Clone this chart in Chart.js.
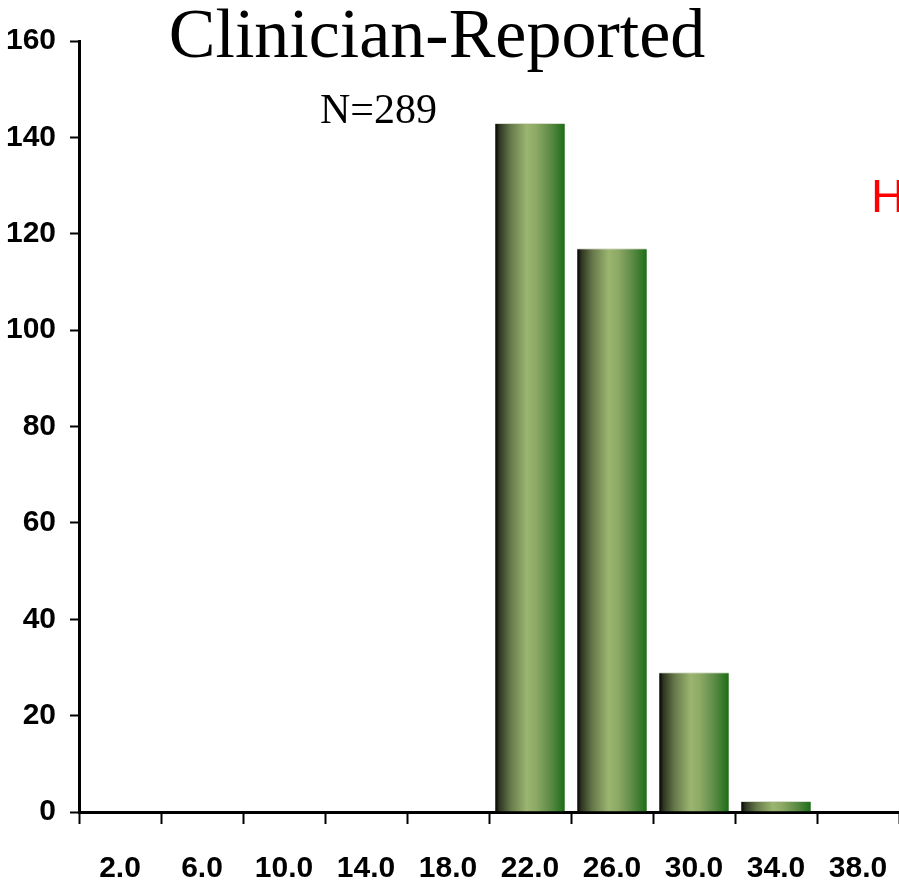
<!DOCTYPE html>
<html>
<head>
<meta charset="utf-8">
<title>Clinician-Reported</title>
<script src="https://cdn.jsdelivr.net/npm/chart.js@4.4.1/dist/chart.umd.min.js"></script>
<style>
  html, body { margin: 0; padding: 0; background: #fff; }
  #wrap { width: 899px; height: 883px; overflow: hidden; }
</style>
</head>
<body>
<div id="wrap"><canvas id="hist" width="899" height="883"></canvas></div>
<script>
// --- data --------------------------------------------------------------
const binLabels = ["2.0", "6.0", "10.0", "14.0", "18.0", "22.0", "26.0", "30.0", "34.0", "38.0"];
const counts    = [0, 0, 0, 0, 0, 143, 117, 29, 2.3, 0];
const yTicks    = [0, 20, 40, 60, 80, 100, 120, 140, 160];
const titleText = "Clinician-Reported";
const nText     = "N=289";
const sideText  = "H";   // cut off at the right edge in the original

const BAR_PCT = 0.85;
// no narrow face installed, Liberation Sans bold is the closest
const tickFont = { family: "'Liberation Sans', Arial, sans-serif", size: 30, weight: "bold" };

// horizontal "cylinder" shading for each bar
function barGradient(ctx) {
  const chart = ctx.chart;
  const xs = chart.scales.x;
  if (!chart.chartArea || !xs || ctx.dataIndex === undefined) return "#8aa862";
  const cx = xs.getPixelForValue(ctx.dataIndex);
  const w = (xs.width / binLabels.length) * BAR_PCT;
  const g = chart.ctx.createLinearGradient(cx - w / 2, 0, cx + w / 2, 0);
  g.addColorStop(0.00, "#000000");
  g.addColorStop(0.06, "#2e3522");
  g.addColorStop(0.22, "#66784a");
  g.addColorStop(0.45, "#9ab56f");
  g.addColorStop(0.58, "#8faa66");
  g.addColorStop(0.80, "#5a8a44");
  g.addColorStop(0.95, "#2b7422");
  g.addColorStop(1.00, "#1c6a16");
  return g;
}

// title, N and the clipped red letter, drawn on top of the chart
const labelsPlugin = {
  id: "labels",
  afterDraw(chart) {
    const c = chart.ctx;
    c.save();
    c.fillStyle = "#000";
    c.textBaseline = "alphabetic";
    c.textAlign = "center";
    c.font = "70px 'Liberation Serif', 'Times New Roman', serif";
    c.fillText(titleText, 437, 57);
    c.textAlign = "left";
    c.font = "42px 'Liberation Serif', 'Times New Roman', serif";
    c.fillText(nText, 320, 123);
    c.fillStyle = "#ff0000";
    c.font = "47px 'Liberation Sans', Arial, sans-serif";
    c.fillText(sideText, 871, 212);
    c.restore();
  },
};

Chart.defaults.animation = false;
Chart.defaults.color = "#000";

new Chart(document.getElementById("hist"), {
  type: "bar",
  data: {
    labels: binLabels,
    datasets: [{
      data: counts,
      backgroundColor: barGradient,
      borderColor: "#d8dccd",
      borderWidth: { top: 1, left: 0, right: 0, bottom: 0 },
      borderSkipped: "bottom",
      barPercentage: BAR_PCT,
      categoryPercentage: 1,
    }],
  },
  options: {
    responsive: false,
    maintainAspectRatio: false,
    animation: false,
    layout: { padding: { top: 41, right: -2, left: 0, bottom: 0 } },
    plugins: { legend: { display: false }, tooltip: { enabled: false }, title: { display: false } },
    scales: {
      x: {
        offset: true,
        grid: { offset: true, drawOnChartArea: false, color: "#000", tickLength: 12, tickWidth: 2 },
        border: { color: "#000", width: 3 },
        ticks: { font: tickFont, color: "#000", padding: 27, maxRotation: 0, autoSkip: false },
        afterFit(s) { s.height = 71; s.paddingLeft = 0; s.paddingRight = 0; },
      },
      y: {
        min: 0,
        max: 160,
        afterBuildTicks(s) { s.ticks = yTicks.map((v) => ({ value: v })); },
        grid: { drawOnChartArea: false, color: "#000", tickLength: 9, tickWidth: 2 },
        border: { color: "#000", width: 3 },
        ticks: { font: tickFont, color: "#000", padding: 14 },
        afterFit(s) { s.width = 79; },
      },
    },
  },
  plugins: [labelsPlugin],
});
</script>
</body>
</html>
